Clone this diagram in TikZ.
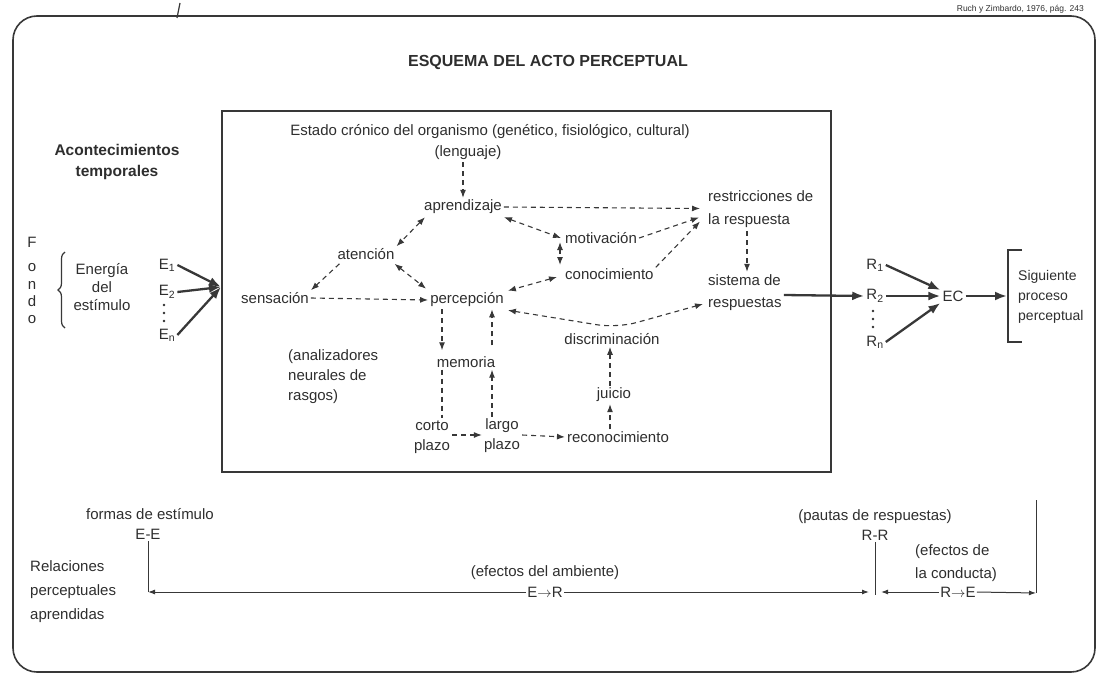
\documentclass[tikz,border=0pt]{standalone}
\usepackage{fontspec}
\setmainfont{Liberation Sans}
\usetikzlibrary{arrows.meta,calc,decorations.pathreplacing}
\definecolor{ink}{gray}{0.18}
\definecolor{lne}{gray}{0.22}
\begin{document}
\begin{tikzpicture}[x=1pt,y=-1pt,
  lbl/.style={font=\fontsize{15}{18}\selectfont, text=ink, inner sep=2pt},
  da/.style={draw=lne, line width=1.1pt, dash pattern=on 5pt off 4pt},
  dr/.style={da, -{Latex[length=8pt,width=6pt]}},
  dd/.style={da, {Latex[length=8pt,width=6pt]}-{Latex[length=8pt,width=6pt]}},
  ta/.style={draw=lne, line width=2.3pt, -{Latex[length=12pt,width=9pt]}},
  tn/.style={draw=lne, line width=1pt},
  tr/.style={tn, -{Latex[length=7pt,width=5pt]}},
  frm/.style={draw=lne, line width=1.6pt},
  dotmark/.style={fill=ink}]
\useasboundingbox (0,0) rectangle (1097,677);
% outer frame
\draw[frm, rounded corners=24pt] (13,16) rectangle (1095,672);
\draw[lne, line width=1.2pt] (180,3) -- (177,18);
\node[lbl, anchor=east, font=\fontsize{8.5}{10}\selectfont] (cite) at (1086,9) {Ruch y Zimbardo, 1976, pág. 243};
\node[text=ink, font=\bfseries\fontsize{16}{19}\selectfont] (title) at (548,62) {ESQUEMA DEL ACTO PERCEPTUAL};
\node[text=ink, font=\bfseries\fontsize{15.5}{21}\selectfont, align=center] (acont) at (117,162) {Acontecimientos\\temporales};
% Fondo
\node[lbl, anchor=base] (f1) at (32,247) {F};
\node[lbl, anchor=base] (f2) at (32,271) {o};
\node[lbl, anchor=base] (f3) at (32,289) {n};
\node[lbl, anchor=base] (f4) at (32,306) {d};
\node[lbl, anchor=base] (f5) at (32,323) {o};
\coordinate (brb) at (65,328);
\coordinate (brt) at (65,252);
\draw[lne, line width=1.2pt, decorate, decoration={brace, amplitude=7pt}] (brb) -- (brt);
\node[lbl, align=center] (energia) at (102,287) {Energía\\del\\estímulo};
\node[lbl] (e1) at (167,265) {E\textsubscript{1}};
\node[lbl] (e2) at (167,292) {E\textsubscript{2}};
\node[lbl] (en) at (167,335) {E\textsubscript{n}};
\foreach \yy in {305,313,321} \fill[dotmark] (164,\yy) circle (1.4pt);
\coordinate (conv) at (221,287);
\draw[ta] (e1.east) -- (conv);
\draw[ta] (e2.east) -- (conv);
\draw[ta] (en.east) -- (conv);
% inner box
\draw[frm] (222,111) rectangle (831,472);
\node[lbl] (estado) at (490,132) {Estado crónico del organismo (genético, fisiológico, cultural)};
\node[lbl] (leng) at (468,153) {(lenguaje)};
\node[lbl] (apr) at (463,207) {aprendizaje};
\node[lbl] (aten) at (366,254) {atención};
\node[lbl] (sens) at (275,298) {sensación};
\node[lbl] (perc) at (467,300) {percepción};
\node[lbl, anchor=west] (motiv) at (563,238) {motivación};
\node[lbl, anchor=west] (conoc) at (563,274) {conocimiento};
\node[lbl, anchor=west, align=left, font=\fontsize{15}{23}\selectfont] (restr) at (706,209.5) {restricciones de\\la respuesta};
\node[lbl, anchor=west, align=left, font=\fontsize{15}{22}\selectfont] (sist) at (706,293) {sistema de\\respuestas};
\node[lbl, anchor=west, align=left, font=\fontsize{15}{20}\selectfont] (anal) at (286,377) {(analizadores\\neurales de\\rasgos)};
\node[lbl] (mem) at (466,362) {memoria};
\node[lbl, align=center, font=\fontsize{15}{20}\selectfont] (corto) at (432,437) {corto\\plazo};
\node[lbl, align=center, font=\fontsize{15}{20}\selectfont] (largo) at (502,436) {largo\\plazo};
\node[lbl] (recon) at (618,437) {reconocimiento};
\node[lbl] (juicio) at (614,395) {juicio};
\node[lbl] (discr) at (612,339) {discriminación};
% inner connectors
\draw[dr] ($(leng.south)+(-5,0)$) -- (apr.north);
\draw[dd] ($(apr.south west)+(3,1)$) -- (aten.north east);
\draw[dd] ($(apr.south east)+(0,1)$) -- ($(motiv.west)+(-2,0)$);
\draw[dr] ($(aten.south west)+(4,2)$) -- (sens.north east);
\draw[dd] ($(aten.south east)+(-2,2)$) -- ($(perc.north west)+(-2,-2)$);
\draw[dr] (sens.east) -- (perc.west);
\draw[dd] ($(motiv.west)+(-3,4)$) -- ($(conoc.west)+(-3,-9)$);
\draw[dd] ($(conoc.west)+(-6,3)$) -- ($(perc.north east)+(2,0)$);
\draw[dr] (apr.east) -- ($(restr.west)+(-6,-1)$);
\draw[dr] (motiv.east) -- ($(restr.west)+(-7,8)$);
\draw[dr] ($(conoc.north east)+(0,1)$) -- ($(restr.west)+(-6,12)$);
\draw[dr] ($(restr.south west)+(41,1)$) -- ($(sist.north west)+(41,-1)$);
\coordinate (vb) at (617,328);
\draw[dd, rounded corners=20pt] ($(perc.south east)+(2,1)$) -- (vb) -- ($(sist.west)+(-3,11)$);
\draw[dr] ($(perc.south)+(-25,0)$) -- ($(mem.north)+(-24,-4)$);
\draw[dr] ($(mem.north)+(26,-9)$) -- ($(perc.south)+(25,0)$);
\draw[da] ($(mem.south)+(-24,0)$) -- ($(corto.north)+(10,0)$);
\draw[dr] ($(largo.north)+(-10,0)$) -- ($(mem.south)+(26,0)$);
\draw[dr] ($(corto.east)+(0,-2)$) -- ($(largo.west)+(0,-1)$);
\draw[dr] ($(largo.east)+(0,-1)$) -- (recon.west);
\draw[dr] ($(recon.north)+(-8,0)$) -- ($(juicio.south)+(-4,0)$);
\draw[dr] ($(juicio.north)+(-4,0)$) -- ($(discr.south)+(-2,0)$);
% response side
\node[lbl] (r1) at (875,265) {R\textsubscript{1}};
\node[lbl] (r2) at (875,296) {R\textsubscript{2}};
\node[lbl] (rn) at (875,342) {R\textsubscript{n}};
\foreach \yy in {311,319,327} \fill[dotmark] (873,\yy) circle (1.4pt);
\node[lbl] (ec) at (953,296) {EC};
\draw[ta] ($(sist.east)+(0,2)$) -- (r2.west);
\draw[ta] (r1.east) -- ($(ec.west)+(0,-6)$);
\draw[ta] (r2.east) -- (ec.west);
\draw[ta] (rn.east) -- ($(ec.west)+(0,7)$);
\coordinate (brk) at (1007,296);
\draw[ta] (ec.east) -- (brk);
\draw[lne, line width=1.4pt] (1022,250) -- (1008,250) -- (1008,342) -- (1022,342);
\node[lbl, anchor=west, align=left, font=\fontsize{14}{20}\selectfont] (sig) at (1016,297) {Siguiente\\proceso\\perceptual};
% bottom relations
\node[lbl] (formas) at (150,514) {formas de estímulo};
\node[lbl] (ee) at (148,534) {E-E};
\coordinate (c1) at (148,592);
\node[lbl, anchor=west, align=left, font=\fontsize{15}{24}\selectfont] (relac) at (28,592) {Relaciones\\perceptuales\\aprendidas};
\node[lbl] (amb) at (545,573) {(efectos del ambiente)};
\node[lbl, inner sep=1pt] (er) at (545,592) {E$\rightarrow$R};
\draw[tn] (ee.south) -- (c1);
\draw[tr] (er.west) -- (c1);
\node[lbl] (paut) at (875,517) {(pautas de respuestas)};
\node[lbl] (rr) at (875,535) {R-R};
\coordinate (c2) at (875,595);
\draw[tn] (rr.south) -- (c2);
\coordinate (c3) at (869,592);
\draw[tr] (er.east) -- (c3);
\node[lbl, anchor=west, align=left, font=\fontsize{15}{23}\selectfont] (econd) at (913,563) {(efectos de\\la conducta)};
\node[lbl, inner sep=1pt] (re) at (958,592) {R$\rightarrow$E};
\coordinate (c4) at (881,592);
\draw[tr] (re.west) -- (c4);
\coordinate (c5) at (1036,500);
\coordinate (c6) at (1036,593);
\draw[tn] (c5) -- (c6);
\draw[tr] (re.east) -- (c6);
\end{tikzpicture}
\end{document}
